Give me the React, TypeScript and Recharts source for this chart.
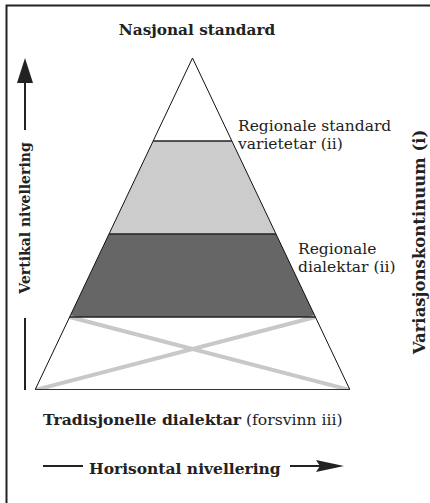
import { ComposedChart, Area, Line, XAxis, YAxis } from "recharts"

// triangle geometry in data units: base from -50..50 at level 0, apex at level 100
const baseHalf = 50
const apexLevel = 100
// band boundaries (levels)
const dialectTop = 22
const regionalDialectTop = 47
const regionalStandardTop = 75

const halfAt = (lvl: number) => baseHalf * (1 - lvl / apexLevel)

const trapezoid = (lo: number, hi: number) => [
  { x: -halfAt(lo), r: [lo, lo] },
  { x: -halfAt(hi), r: [lo, hi] },
  { x: halfAt(hi), r: [lo, hi] },
  { x: halfAt(lo), r: [lo, lo] },
]

const lightBand = trapezoid(regionalDialectTop, regionalStandardTop)
const darkBand = trapezoid(dialectTop, regionalDialectTop)

const outline = [
  { x: -baseHalf, y: 0 },
  { x: 0, y: apexLevel },
  { x: baseHalf, y: 0 },
]
const baseLine = [
  { x: -baseHalf, y: 0 },
  { x: baseHalf, y: 0 },
]
const divider = (lvl: number) => [
  { x: -halfAt(lvl), y: lvl },
  { x: halfAt(lvl), y: lvl },
]
const crossA = [
  { x: -halfAt(dialectTop), y: dialectTop },
  { x: baseHalf, y: 0 },
]
const crossB = [
  { x: halfAt(dialectTop), y: dialectTop },
  { x: -baseHalf, y: 0 },
]

const font = "'DejaVu Serif', serif"

export default function App() {
  return (
    <div style={{ position: "absolute", left: 0, top: 0, width: 430, height: 503, background: "#fff" }}>
      <ComposedChart width={430} height={503} margin={{ top: 58, right: 80, bottom: 113, left: 35 }}>
        <XAxis type="number" dataKey="x" domain={[-baseHalf, baseHalf]} hide allowDataOverflow />
        <YAxis type="number" domain={[0, apexLevel]} hide allowDataOverflow />
        <Area data={lightBand} dataKey="r" type="linear" fill="#cccccc" fillOpacity={1} stroke="none" isAnimationActive={false} />
        <Area data={darkBand} dataKey="r" type="linear" fill="#666666" fillOpacity={1} stroke="none" isAnimationActive={false} />
        <Line data={crossA} dataKey="y" stroke="#c8c8c8" strokeWidth={4} dot={false} isAnimationActive={false} />
        <Line data={crossB} dataKey="y" stroke="#c8c8c8" strokeWidth={4} dot={false} isAnimationActive={false} />
        <Line data={outline} dataKey="y" stroke="#111" strokeWidth={1} dot={false} isAnimationActive={false} />
        <Line data={baseLine} dataKey="y" stroke="#333" strokeWidth={2} dot={false} isAnimationActive={false} />
        <Line data={divider(regionalStandardTop)} dataKey="y" stroke="#222" strokeWidth={1.5} dot={false} isAnimationActive={false} />
        <Line data={divider(regionalDialectTop)} dataKey="y" stroke="#222" strokeWidth={1.5} dot={false} isAnimationActive={false} />
        <Line data={divider(dialectTop)} dataKey="y" stroke="#222" strokeWidth={1.5} dot={false} isAnimationActive={false} />
      </ComposedChart>

      <svg width={430} height={503} style={{ position: "absolute", left: 0, top: 0, pointerEvents: "none" }} fontFamily={font} fill="#222">
        {/* frame */}
        <path d="M6.5,503 L6.5,5.5 L430,5.5" stroke="#222" strokeWidth={2} fill="none" />

        <text x={197} y={35} textAnchor="middle" fontWeight="bold" fontSize={15.3}>Nasjonal standard</text>

        <text x={238} y={131} fontSize={15.5}>Regionale standard</text>
        <text x={238} y={149} fontSize={15.5}>varietetar (ii)</text>

        <text x={298} y={254} fontSize={15.5}>Regionale</text>
        <text x={298} y={272} fontSize={15.5}>dialektar (ii)</text>

        <text x={43} y={425} fontSize={15.6}>
          <tspan fontWeight="bold">Tradisjonelle dialektar</tspan> (forsvinn iii)
        </text>

        {/* horizontal arrow */}
        <line x1={43} y1={466} x2={83} y2={466} stroke="#222" strokeWidth={2} />
        <text x={89} y={474} fontWeight="bold" fontSize={15.5}>Horisontal nivellering</text>
        <line x1={290} y1={466} x2={320} y2={466} stroke="#222" strokeWidth={2} />
        <path d="M344,466 L316,460 L320,466 L316,472 Z" fill="#222" />

        {/* vertical arrow */}
        <path d="M25,58 L17,83 L33,83 Z" fill="#222" />
        <line x1={25} y1={80} x2={25} y2={130} stroke="#222" strokeWidth={2} />
        <text x={25} y={218} transform="rotate(-90 25 218)" textAnchor="middle" dominantBaseline="central" fontWeight="bold" fontSize={14}>Vertikal nivellering</text>
        <line x1={25} y1={318} x2={25} y2={390} stroke="#222" strokeWidth={2} />

        <text x={419} y={242} transform="rotate(-90 419 242)" textAnchor="middle" dominantBaseline="central" fontWeight="bold" fontSize={16.5}>Variasjonskontinuum (i)</text>
      </svg>
    </div>
  )
}
